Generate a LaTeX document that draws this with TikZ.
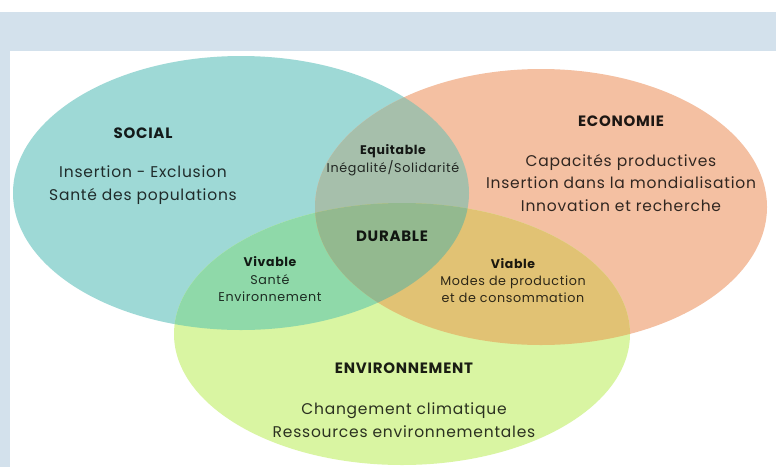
\documentclass[tikz,border=0pt]{standalone}
\usepackage{fontspec}
\setmainfont{Poppins}[LetterSpace=5]
\definecolor{band}{HTML}{D3E1EC}
\definecolor{socialc}{HTML}{9ED9D6}
\definecolor{ecoc}{HTML}{F4C0A2}
\definecolor{envc}{HTML}{D9F5A2}
\definecolor{equic}{HTML}{A6BFAB}
\definecolor{vivc}{HTML}{8FD9A9}
\definecolor{viac}{HTML}{E1C274}
\definecolor{durc}{HTML}{93B98F}
\begin{document}
\begin{tikzpicture}[x=1pt,y=-1pt,
  title/.style={font=\bfseries\fontsize{15}{18}\selectfont, text=black, text opacity=0.88},
  smalltitle/.style={font=\bfseries\fontsize{12.5}{15}\selectfont, text=black, text opacity=0.88},
  body/.style={font=\fontsize{15.5}{22.5}\selectfont, align=center, text=black, text opacity=0.8},
  smallbody/.style={font=\fontsize{12.7}{17}\selectfont, align=center, text=black, text opacity=0.8},
  inner sep=0pt]
\useasboundingbox (0,0) rectangle (776,467);
\fill[white] (0,0) rectangle (776,467);
% frame band along the top and left
\fill[band] (0,12) rectangle (776,51);
\fill[band] (0,12) rectangle (10,467);

% the three circles
\def\socialpath{(241,193) ellipse [x radius=228pt, y radius=137pt]}
\def\ecopath{(541,207) ellipse [x radius=226pt, y radius=138pt]}
\def\envpath{(402,334) ellipse [x radius=228pt, y radius=131pt]}
\fill[socialc] \socialpath;
\fill[ecoc] \ecopath;
\fill[envc] \envpath;
% pairwise overlaps
\begin{scope}\clip \socialpath; \fill[equic] \ecopath; \end{scope}
\begin{scope}\clip \socialpath; \fill[vivc] \envpath; \end{scope}
\begin{scope}\clip \ecopath; \fill[viac] \envpath; \end{scope}
% common core
\begin{scope}\clip \socialpath; \clip \ecopath; \fill[durc] \envpath; \end{scope}

% SOCIAL
\node[title] (social) at (143,133) {SOCIAL};
\node[body] (socialtxt) at (143,185) {Insertion - Exclusion\\Santé des populations};
% ECONOMIE
\node[title] (eco) at (621,121) {ECONOMIE};
\node[body] (ecotxt) at (621,183) {Capacités productives\\Insertion dans la mondialisation\\Innovation et recherche};
% ENVIRONNEMENT
\node[title] (env) at (404,368) {ENVIRONNEMENT};
\node[body] (envtxt) at (404,420) {Changement climatique\\Ressources environnementales};
% overlaps
\node[smalltitle] (equi) at (393,151) {Equitable};
\node[smallbody] (equitxt) at (393,168) {Inégalité/Solidarité};
\node[title] (dur) at (392,236) {DURABLE};
\node[smalltitle] (viv) at (270,262) {Vivable};
\node[smallbody] (vivtxt) at (270,288.5) {Santé\\Environnement};
\node[smalltitle] (via) at (513,264) {Viable};
\node[smallbody] (viatxt) at (513,289.5) {Modes de production\\et de consommation};
\end{tikzpicture}
\end{document}
